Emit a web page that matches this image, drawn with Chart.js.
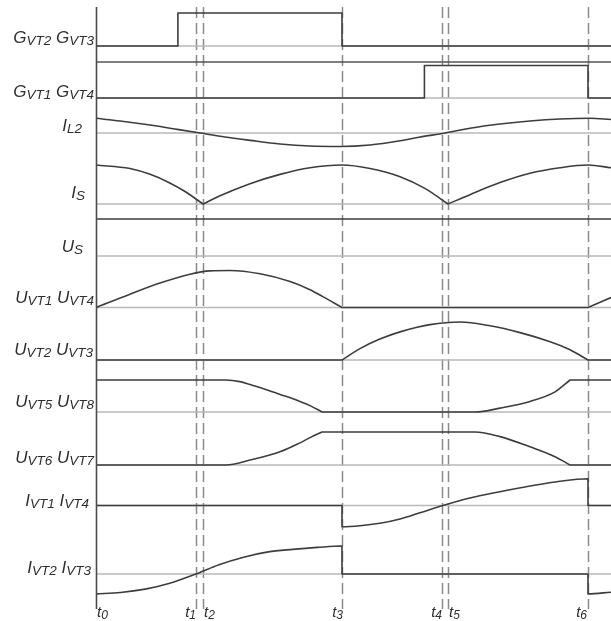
<!DOCTYPE html>
<html><head><meta charset="utf-8">
<script src="https://cdn.jsdelivr.net/npm/chart.js@4.4.1/dist/chart.umd.min.js"></script>
<style>html,body{margin:0;padding:0;background:#fff;} #wrap{width:611px;height:621px;position:relative;}</style>
</head><body><div id="wrap"><canvas id="c" width="611" height="621"></canvas></div>
<script>
// ---------- DATA (time unit: t3 - t0 = 1) ----------
const timeMarks = [0, 0.4065, 0.435, 1.0, 1.4065, 1.431, 2.0];
const timeLabelSubs = ['0', '1', '2', '3', '4', '5', '6'];
const tEnd = 2.0935;

const GVT23_t = [0, 0.333, 0.333, 1.0, 1.0, tEnd];
const GVT23_v = [0, 0, 1, 1, 0, 0];

const GVT14_t = [0, 1.335, 1.335, 2.0, 2.0, tEnd];
const GVT14_v = [0, 0, 1, 1, 0, 0];

const IL2_t = [0, 0.098, 0.22, 0.32, 0.423, 0.524, 0.626, 0.748, 0.87, 0.992, 1.114, 1.236, 1.317, 1.419, 1.52, 1.642, 1.764, 1.886, 2.008, tEnd];
const IL2_v = [0.98, 0.8, 0.53, 0.27, 0, -0.27, -0.49, -0.73, -0.87, -0.9, -0.8, -0.52, -0.27, 0, 0.32, 0.6, 0.8, 0.93, 0.98, 0.9];

const IS_t = [0, 0.138, 0.22, 0.3, 0.362, 0.435, 0.504, 0.626, 0.748, 0.87, 1.0, 1.114, 1.236, 1.337, 1.431, 1.52, 1.642, 1.764, 1.886, 2.0, tEnd];
const IS_v = [1.0, 0.91, 0.76, 0.54, 0.32, 0, 0.21, 0.52, 0.76, 0.93, 1.0, 0.91, 0.7, 0.4, 0, 0.24, 0.55, 0.79, 0.93, 1.0, 0.93];
const IS_corners = [5, 14];

const US_t = [0, tEnd];
const US_v = [1, 1];

const UVT14_t = [0, 0.138, 0.26, 0.382, 0.463, 0.545, 0.667, 0.789, 0.87, 0.92, 1.0, 2.0, tEnd];
const UVT14_v = [0, 0.36, 0.66, 0.9, 0.99, 1.0, 0.91, 0.7, 0.48, 0.3, 0, 0, 0.27];
const UVT14_corners = [0, 10, 11];

const UVT23_t = [0, 1.0, 1.073, 1.154, 1.236, 1.358, 1.48, 1.602, 1.724, 1.846, 1.927, 2.0, tEnd];
const UVT23_v = [0, 0, 0.3, 0.55, 0.74, 0.93, 1.0, 0.9, 0.72, 0.48, 0.27, 0, 0];
const UVT23_corners = [1, 11];

const UVT58_t = [0, 0.528, 0.585, 0.626, 0.687, 0.748, 0.829, 0.87, 0.919, 1.541, 1.642, 1.764, 1.866, 1.927, tEnd];
const UVT58_v = [1, 1, 0.95, 0.86, 0.71, 0.55, 0.33, 0.2, 0, 0, 0.12, 0.33, 0.63, 1, 1];
const UVT58_corners = [8, 13];

const UVT67_t = [0, 0.528, 0.626, 0.748, 0.829, 0.87, 0.919, 1.541, 1.642, 1.764, 1.866, 1.927, tEnd];
const UVT67_v = [0, 0, 0.15, 0.4, 0.67, 0.83, 1, 1, 0.86, 0.55, 0.25, 0, 0];
const UVT67_corners = [6, 11];

const IVT14_t = [0, 1.0, 1.0, 1.073, 1.154, 1.236, 1.317, 1.41, 1.52, 1.642, 1.764, 1.886, 2.0, 2.0, tEnd];
const IVT14_v = [0, 0, -0.785, -0.75, -0.66, -0.5, -0.27, 0, 0.28, 0.51, 0.72, 0.9, 0.99, 0, 0];

const IVT23_t = [0, 0.1, 0.2, 0.3, 0.407, 0.5, 0.6, 0.7, 0.8, 0.9, 1.0, 1.0, 2.0, 2.0, tEnd];
const IVT23_v = [-0.71, -0.66, -0.54, -0.33, 0, 0.33, 0.6, 0.79, 0.88, 0.95, 1.0, 0, 0, -0.71, -0.65];

// ---------- LAYOUT (y scale runs 0..621 top to bottom) ----------
const signals = [
  {label: 'G_VT2 G_VT3', t: GVT23_t, v: GVT23_v, c: [], base: 46, amp: 33, lx: 94, ly: 43},
  {label: 'G_VT1 G_VT4', t: GVT14_t, v: GVT14_v, c: [], base: 98, amp: 32.5, lx: 94, ly: 97},
  {label: 'I_L2', t: IL2_t, v: IL2_v, c: [], base: 133, amp: 15, lx: 82, ly: 131},
  {label: 'I_S', t: IS_t, v: IS_v, c: IS_corners, base: 204, amp: 39, lx: 85, ly: 198},
  {label: 'U_S', t: US_t, v: US_v, c: [], base: 256, amp: 37, lx: 83, ly: 252},
  {label: 'U_VT1 U_VT4', t: UVT14_t, v: UVT14_v, c: UVT14_corners, base: 307.5, amp: 37, lx: 94, ly: 303},
  {label: 'U_VT2 U_VT3', t: UVT23_t, v: UVT23_v, c: UVT23_corners, base: 360, amp: 38, lx: 93, ly: 355},
  {label: 'U_VT5 U_VT8', t: UVT58_t, v: UVT58_v, c: UVT58_corners, base: 412, amp: 32, lx: 94, ly: 407},
  {label: 'U_VT6 U_VT7', t: UVT67_t, v: UVT67_v, c: UVT67_corners, base: 465, amp: 33, lx: 94, ly: 463},
  {label: 'I_VT1 I_VT4', t: IVT14_t, v: IVT14_v, c: [], base: 505.5, amp: 27, lx: 89, ly: 506},
  {label: 'I_VT2 I_VT3', t: IVT23_t, v: IVT23_v, c: [], base: 574, amp: 28, lx: 91, ly: 573}
];
const separators = [62];
const timeLabelPos = [{dx: 1, align: 'left'}, {dx: 0, align: 'right'}, {dx: 1, align: 'left'}, {dx: 1, align: 'right'},
  {dx: 0, align: 'right'}, {dx: 1, align: 'left'}, {dx: -1, align: 'right'}];
const axisTop = 7, axisBottom = 609;

const WAVE = '#3d3d3d', BASE = '#b8b8b8', DASH = '#8a8a8a', TEXT = '#2e2e2e';
const FONT = '"Liberation Sans", Arial, sans-serif';

function buildPoints(s) {
  const pts = [];
  for (let i = 0; i < s.t.length; i++) {
    const y = s.base - s.v[i] * s.amp;
    pts.push({x: s.t[i], y: y});
    if (s.c.includes(i)) { pts.push({x: s.t[i], y: null}); pts.push({x: s.t[i], y: y}); }
  }
  return pts;
}

const datasets = [];
signals.forEach(s => {
  datasets.push({data: buildPoints(s), borderColor: WAVE, borderWidth: 1.6, cubicInterpolationMode: 'monotone', order: 1});
});
signals.forEach(s => {
  datasets.push({data: [{x: 0, y: s.base}, {x: tEnd, y: s.base}], borderColor: BASE, borderWidth: 1.6, order: 3});
});
separators.forEach(y => {
  datasets.push({data: [{x: 0, y: y}, {x: tEnd, y: y}], borderColor: '#555', borderWidth: 1.6, order: 2});
});

function drawRich(ctx, label, right, y, mainSize, subSize, subDy) {
  const parts = [];
  label.split(' ').forEach((tok, i) => {
    if (i > 0) parts.push({s: ' ', sub: false});
    const [m, sb] = tok.split('_');
    parts.push({s: m, sub: false});
    if (sb) parts.push({s: sb, sub: true});
  });
  const mf = 'italic ' + mainSize + 'px ' + FONT, sf = 'italic ' + subSize + 'px ' + FONT;
  let w = 0;
  parts.forEach(p => { ctx.font = p.sub ? sf : mf; p.w = ctx.measureText(p.s).width; w += p.w; });
  let x = right - w;
  parts.forEach(p => { ctx.font = p.sub ? sf : mf; ctx.fillText(p.s, x, y + (p.sub ? subDy : 0)); x += p.w; });
  return w;
}

const decor = {
  id: 'decor',
  beforeDatasetsDraw(chart) {
    const ctx = chart.ctx, xs = chart.scales.x, ys = chart.scales.y;
    ctx.save();
    ctx.strokeStyle = DASH; ctx.lineWidth = 1.5; ctx.setLineDash([11, 5]);
    timeMarks.forEach((t, i) => {
      if (i === 0) return;
      const px = Math.round(xs.getPixelForValue(t)) + 0.5;
      ctx.beginPath(); ctx.moveTo(px, ys.getPixelForValue(axisTop)); ctx.lineTo(px, ys.getPixelForValue(axisBottom)); ctx.stroke();
    });
    ctx.restore();
  },
  afterDatasetsDraw(chart) {
    const ctx = chart.ctx, xs = chart.scales.x, ys = chart.scales.y;
    ctx.save();
    ctx.strokeStyle = '#4a4a4a'; ctx.lineWidth = 1.6;
    const ax = xs.getPixelForValue(timeMarks[0]) + 0.5;
    ctx.beginPath(); ctx.moveTo(ax, ys.getPixelForValue(axisTop)); ctx.lineTo(ax, ys.getPixelForValue(axisBottom)); ctx.stroke();
    ctx.fillStyle = TEXT; ctx.textBaseline = 'alphabetic'; ctx.textAlign = 'left';
    signals.forEach(s => drawRich(ctx, s.label, s.lx, ys.getPixelForValue(s.ly), 17, 13.5, 2));
    timeMarks.forEach((t, i) => {
      const p = timeLabelPos[i];
      const px = xs.getPixelForValue(t);
      const lab = 't_' + timeLabelSubs[i];
      ctx.font = 'italic 15px ' + FONT; const w1 = ctx.measureText('t').width;
      ctx.font = 'italic 12px ' + FONT; const w2 = ctx.measureText(timeLabelSubs[i]).width;
      const right = p.align === 'left' ? px + p.dx + w1 + w2 : px + p.dx;
      drawRich(ctx, lab, right, ys.getPixelForValue(617), 15, 12, 1.5);
    });
    ctx.restore();
  }
};

new Chart(document.getElementById('c'), {
  type: 'line',
  data: {datasets: datasets},
  options: {
    responsive: false, animation: false, devicePixelRatio: 1,
    layout: {padding: {left: 96, right: 0, top: 0, bottom: 0}},
    plugins: {legend: {display: false}, tooltip: {enabled: false}},
    elements: {point: {radius: 0, hoverRadius: 0}, line: {borderCapStyle: 'round', borderJoinStyle: 'round'}},
    scales: {
      x: {type: 'linear', min: 0, max: tEnd, display: false},
      y: {type: 'linear', min: 0, max: 621, reverse: true, display: false}
    }
  },
  plugins: [decor]
});
</script></body></html>
